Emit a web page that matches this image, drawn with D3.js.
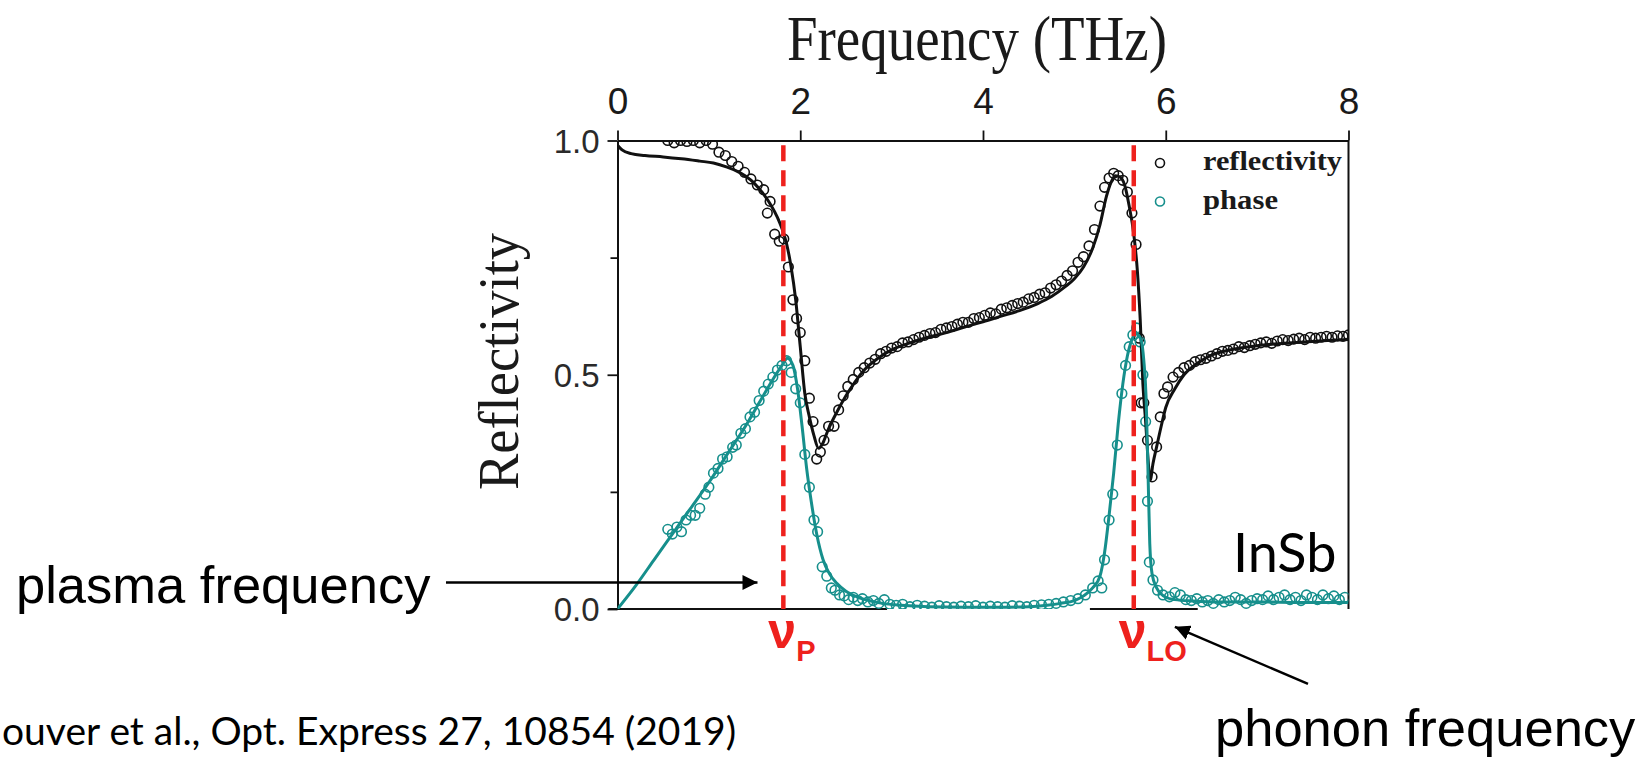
<!DOCTYPE html>
<html><head><meta charset="utf-8">
<script src="https://cdn.jsdelivr.net/npm/d3@7"></script>
<style>html,body{margin:0;padding:0;background:#fff;overflow:hidden;} svg{display:block;}</style>
</head><body>
<svg id="chart" width="1643" height="760"></svg>
<script>
// ---------- data ----------
const xTicks = [0, 2, 4, 6, 8];
const yTicks = [0, 0.5, 1.0];
const yMinorTicks = [0.25, 0.75];

// fitted reflectivity (black line)
const reflFitFreq = [0,0.05,0.15,0.3,0.5,0.7,0.9,1.05,1.2,1.3,1.4,1.5,1.6,1.68,1.75,1.8,1.85,1.9,1.95,2.0,2.05,2.1,2.15,2.2,2.25,2.3,2.4,2.5,2.6,2.7,2.85,3.0,3.2,3.4,3.6,3.8,4.0,4.2,4.4,4.6,4.75,4.9,5.0,5.1,5.2,5.28,5.35,5.4,5.45,5.5,5.55,5.6,5.65,5.69,5.72,5.75,5.78,5.81,5.83,5.86,5.9,5.95,6.0,6.1,6.2,6.35,6.5,6.7,7.0,7.3,7.6,8.0];
const reflFitVal = [0.99,0.98,0.972,0.968,0.965,0.961,0.956,0.952,0.943,0.935,0.924,0.908,0.885,0.862,0.836,0.812,0.78,0.73,0.66,0.56,0.46,0.41,0.37,0.343,0.355,0.38,0.42,0.455,0.485,0.51,0.535,0.553,0.568,0.58,0.59,0.602,0.613,0.625,0.637,0.652,0.667,0.688,0.705,0.73,0.77,0.82,0.88,0.91,0.925,0.922,0.905,0.86,0.80,0.72,0.62,0.48,0.40,0.31,0.275,0.31,0.346,0.39,0.43,0.47,0.50,0.525,0.542,0.553,0.562,0.567,0.571,0.575];

// fitted phase (teal line)
const phaseFitFreq = [0,0.2,0.4,0.6,0.8,1.0,1.2,1.4,1.55,1.7,1.8,1.86,1.92,1.97,2.02,2.07,2.12,2.18,2.25,2.32,2.4,2.5,2.62,2.75,2.9,3.1,3.4,3.8,4.2,4.5,4.7,4.85,5.0,5.1,5.2,5.28,5.33,5.38,5.43,5.48,5.53,5.58,5.63,5.67,5.70,5.73,5.76,5.785,5.805,5.825,5.85,5.9,5.95,6.0,6.1,6.3,6.6,7.0,7.5,8.0];
const phaseFitVal = [0,0.05,0.105,0.16,0.215,0.27,0.33,0.39,0.44,0.49,0.52,0.535,0.52,0.47,0.39,0.30,0.23,0.16,0.105,0.075,0.055,0.038,0.026,0.018,0.012,0.008,0.005,0.004,0.004,0.005,0.008,0.012,0.018,0.028,0.045,0.07,0.12,0.2,0.29,0.395,0.48,0.54,0.575,0.588,0.585,0.575,0.53,0.45,0.30,0.14,0.075,0.045,0.032,0.025,0.02,0.017,0.015,0.015,0.014,0.014];

// measured reflectivity (black circles) [THz, value]
const reflMeas = [[0.55,1.0],[0.62,0.995],[0.69,1.0],[0.76,0.998],[0.83,1.0],[0.90,0.995],[0.97,1.0],[1.04,0.992],[1.11,0.975],[1.18,0.968],[1.25,0.955],[1.32,0.945],[1.39,0.932],[1.46,0.918],[1.53,0.905],[1.60,0.895],[1.64,0.845],[1.67,0.87],[1.72,0.80],[1.77,0.785],[1.82,0.79],[1.87,0.73],[1.92,0.66],[1.96,0.62],[2.0,0.59],[2.05,0.53],[2.10,0.45],[2.14,0.40],[2.18,0.32],[2.22,0.335],[2.26,0.36],[2.31,0.39],[2.37,0.39],[2.42,0.425],[2.47,0.455],[2.52,0.475],[2.58,0.49],[2.64,0.505],[2.70,0.515],[2.76,0.525],[2.82,0.533],[2.88,0.545],[2.94,0.55],[3.0,0.557],[3.06,0.56],[3.12,0.568],[3.18,0.57],[3.24,0.575],[3.30,0.58],[3.36,0.584],[3.42,0.588],[3.48,0.59],[3.54,0.597],[3.60,0.6],[3.66,0.603],[3.72,0.608],[3.78,0.612],[3.84,0.612],[3.90,0.62],[3.96,0.622],[4.02,0.627],[4.08,0.632],[4.14,0.63],[4.20,0.64],[4.26,0.643],[4.32,0.648],[4.38,0.652],[4.44,0.655],[4.50,0.662],[4.56,0.665],[4.62,0.672],[4.68,0.675],[4.74,0.685],[4.80,0.692],[4.86,0.70],[4.92,0.712],[4.98,0.722],[5.04,0.74],[5.10,0.752],[5.16,0.775],[5.22,0.81],[5.28,0.86],[5.33,0.90],[5.38,0.92],[5.43,0.93],[5.48,0.925],[5.53,0.915],[5.58,0.89],[5.63,0.845],[5.675,0.778],[5.71,0.578],[5.73,0.44],[5.76,0.44],[5.80,0.36],[5.85,0.282],[5.90,0.346],[5.94,0.41],[5.98,0.46],[6.02,0.474],[6.08,0.495],[6.14,0.505],[6.20,0.515],[6.26,0.52],[6.32,0.528],[6.38,0.532],[6.44,0.535],[6.50,0.54],[6.56,0.545],[6.62,0.55],[6.68,0.552],[6.74,0.555],[6.80,0.56],[6.86,0.558],[6.92,0.562],[6.98,0.565],[7.04,0.568],[7.10,0.57],[7.16,0.567],[7.22,0.572],[7.28,0.575],[7.34,0.573],[7.40,0.576],[7.46,0.578],[7.52,0.575],[7.58,0.58],[7.64,0.578],[7.70,0.58],[7.76,0.582],[7.82,0.58],[7.88,0.583],[7.94,0.582],[8.0,0.585]];

// measured phase (teal circles) [THz, value]
const phaseMeas = [[0.55,0.17],[0.60,0.16],[0.65,0.175],[0.70,0.165],[0.75,0.19],[0.80,0.2],[0.85,0.2],[0.90,0.215],[0.96,0.245],[1.00,0.26],[1.05,0.29],[1.10,0.3],[1.15,0.32],[1.20,0.325],[1.26,0.345],[1.30,0.35],[1.35,0.375],[1.40,0.385],[1.45,0.41],[1.50,0.42],[1.55,0.445],[1.60,0.465],[1.65,0.48],[1.70,0.495],[1.75,0.51],[1.80,0.52],[1.85,0.53],[1.90,0.505],[1.95,0.47],[2.0,0.44],[2.05,0.33],[2.10,0.26],[2.15,0.19],[2.19,0.165],[2.24,0.09],[2.29,0.07],[2.34,0.045],[2.38,0.04],[2.43,0.03],[2.48,0.028],[2.53,0.02],[2.58,0.025],[2.63,0.018],[2.68,0.022],[2.74,0.015],[2.80,0.018],[2.86,0.012],[2.92,0.02],[2.98,0.01],[3.05,0.008],[3.12,0.01],[3.2,0.005],[3.28,0.008],[3.36,0.006],[3.44,0.004],[3.52,0.007],[3.6,0.005],[3.68,0.004],[3.76,0.006],[3.84,0.005],[3.92,0.007],[4.0,0.004],[4.08,0.006],[4.16,0.005],[4.24,0.004],[4.32,0.007],[4.40,0.006],[4.48,0.005],[4.56,0.008],[4.64,0.009],[4.72,0.01],[4.80,0.012],[4.88,0.015],[4.96,0.018],[5.04,0.022],[5.12,0.03],[5.20,0.045],[5.26,0.06],[5.30,0.045],[5.33,0.105],[5.38,0.19],[5.42,0.245],[5.47,0.35],[5.52,0.46],[5.56,0.52],[5.60,0.56],[5.64,0.585],[5.68,0.60],[5.72,0.57],[5.75,0.50],[5.78,0.40],[5.80,0.23],[5.82,0.10],[5.86,0.062],[5.91,0.04],[5.97,0.03],[6.04,0.026],[6.10,0.035],[6.16,0.03],[6.22,0.02],[6.28,0.018],[6.34,0.022],[6.40,0.015],[6.46,0.018],[6.52,0.012],[6.58,0.02],[6.64,0.015],[6.70,0.018],[6.76,0.025],[6.82,0.02],[6.88,0.012],[6.94,0.018],[7.0,0.022],[7.06,0.02],[7.12,0.028],[7.18,0.02],[7.24,0.025],[7.30,0.03],[7.36,0.02],[7.42,0.025],[7.48,0.018],[7.54,0.03],[7.60,0.025],[7.66,0.02],[7.72,0.03],[7.78,0.022],[7.84,0.028],[7.90,0.02],[7.96,0.025]];

// characteristic frequencies (red dashed lines)
const markerFreq = [1.815, 5.65];
const markerMain = ["\u03BD", "\u03BD"];
const markerSub = ["P", "LO"];

// visible pieces of the bottom axis (THz)
const bottomAxisSpans = [[-0.1, 2.95], [5.17, 6.35]];

// legend
const legendNames = ["reflectivity", "phase"];

// ---------- drawing ----------
const COL_BLACK = "#111";
const COL_TEAL = "#168f8c";
const COL_RED = "#ee211d";

const svg = d3.select("#chart");
svg.append("rect").attr("width",1643).attr("height",760).attr("fill","#fff");

const x = d3.scaleLinear().domain([0, 8]).range([617.5, 1348.5]);
const y = d3.scaleLinear().domain([0, 1]).range([609, 140.5]);

svg.append("defs").append("clipPath").attr("id","plotclip")
  .append("rect").attr("x", x(0)).attr("y", y(1)).attr("width", x(8)-x(0)).attr("height", y(0)-y(1));

const serif = "'Liberation Serif','Times New Roman',serif";
const sans = "'Liberation Sans',Arial,sans-serif";

// title
svg.append("text").attr("x", 977).attr("y", 60).attr("text-anchor","middle")
  .attr("font-family", serif).attr("font-size", 64).attr("fill","#1a1a1a")
  .attr("textLength", 380).attr("lengthAdjust","spacingAndGlyphs")
  .text("Frequency (THz)");

// top axis
const gTop = svg.append("g").attr("transform", `translate(0,${y(1)})`)
  .call(d3.axisTop(x).tickValues(xTicks).tickSize(10).tickPadding(17).tickSizeOuter(0).tickFormat(d3.format("d")));
gTop.select(".domain").attr("stroke", COL_BLACK).attr("stroke-width", 2);
gTop.selectAll(".tick line").attr("stroke", COL_BLACK).attr("stroke-width", 1.8);
gTop.selectAll(".tick text").attr("font-family", sans).attr("font-size", 37).attr("fill","#1a1a1a");

// left axis
const gLeft = svg.append("g").attr("transform", `translate(${x(0)},0)`)
  .call(d3.axisLeft(y).tickValues(yTicks).tickSize(10).tickPadding(8).tickSizeOuter(0).tickFormat(d3.format(".1f")));
gLeft.select(".domain").attr("stroke", COL_BLACK).attr("stroke-width", 2);
gLeft.selectAll(".tick line").attr("stroke", COL_BLACK).attr("stroke-width", 1.8);
gLeft.selectAll(".tick text").attr("font-family", sans).attr("font-size", 33).attr("fill","#2a2a2a").attr("dy","0.36em");
const gLeftMinor = svg.append("g").attr("transform", `translate(${x(0)},0)`)
  .call(d3.axisLeft(y).tickValues(yMinorTicks).tickSize(7).tickFormat(""));
gLeftMinor.select(".domain").remove();
gLeftMinor.selectAll(".tick line").attr("stroke", COL_BLACK).attr("stroke-width", 1.8);

// right axis
svg.append("line").attr("x1", x(8)).attr("x2", x(8)).attr("y1", y(1)).attr("y2", y(0))
  .attr("stroke", COL_BLACK).attr("stroke-width", 2);

// bottom axis pieces
svg.selectAll("line.bottom").data(bottomAxisSpans).enter().append("line").attr("class","bottom")
  .attr("x1", d => x(d[0])).attr("x2", d => x(d[1])).attr("y1", y(0)).attr("y2", y(0))
  .attr("stroke", COL_BLACK).attr("stroke-width", 2);

// y label
svg.append("text").attr("transform", `translate(518,361.5) rotate(-90)`).attr("text-anchor","middle")
  .attr("font-family", serif).attr("font-size", 57).attr("fill","#1a1a1a")
  .attr("textLength", 257).attr("lengthAdjust","spacingAndGlyphs")
  .text("Reflectivity");

const plot = svg.append("g").attr("clip-path","url(#plotclip)");

const line = d3.line().x(d => x(d[0])).y(d => y(d[1])).curve(d3.curveMonotoneX);

const reflFit = reflFitFreq.map((f,i) => [f, reflFitVal[i]]);
const phaseFit = phaseFitFreq.map((f,i) => [f, phaseFitVal[i]]);

// measured circles
plot.selectAll("circle.refl").data(reflMeas).enter().append("circle").attr("class","refl")
  .attr("cx", d => x(d[0])).attr("cy", d => y(d[1])).attr("r", 4.8)
  .attr("fill","none").attr("stroke", COL_BLACK).attr("stroke-width", 1.6);
plot.selectAll("circle.phase").data(phaseMeas).enter().append("circle").attr("class","phase")
  .attr("cx", d => x(d[0])).attr("cy", d => y(d[1])).attr("r", 4.8)
  .attr("fill","none").attr("stroke", COL_TEAL).attr("stroke-width", 1.6);

// fit lines
plot.append("path").datum(reflFit).attr("d", line).attr("fill","none")
  .attr("stroke", COL_BLACK).attr("stroke-width", 3);
plot.append("path").datum(phaseFit).attr("d", line).attr("fill","none")
  .attr("stroke", COL_TEAL).attr("stroke-width", 3);

// red dashed markers
svg.selectAll("line.marker").data(markerFreq).enter().append("line").attr("class","marker")
  .attr("x1", d => x(d)).attr("x2", d => x(d)).attr("y1", y(0.99)).attr("y2", y(0))
  .attr("stroke", COL_RED).attr("stroke-width", 4.5).attr("stroke-dasharray","16,9");

// marker labels
markerFreq.forEach((f, i) => {
  const t = svg.append("text").attr("x", x(f) - 15).attr("y", 648)
    .attr("font-family", sans).attr("font-weight","bold").attr("font-size", 50).attr("fill", COL_RED);
  t.append("tspan").text(markerMain[i]);
  t.append("tspan").attr("dy", 13).attr("font-size", 29).text(markerSub[i]);
});

// legend
const legendColors = [COL_BLACK, COL_TEAL];
const legendY = [163, 201.5];
legendNames.forEach((n, i) => {
  svg.append("circle").attr("cx", 1160).attr("cy", legendY[i]).attr("r", 4.5)
    .attr("fill","none").attr("stroke", legendColors[i]).attr("stroke-width", 1.6);
  svg.append("text").attr("x", 1203).attr("y", legendY[i] + 7)
    .attr("font-family", serif).attr("font-weight","bold").attr("font-size", 28).attr("fill","#1a1a1a")
    .attr("textLength", i === 0 ? 139 : 75).attr("lengthAdjust","spacingAndGlyphs")
    .text(n);
});

// InSb label
svg.append("text").attr("x", 1233).attr("y", 572)
  .attr("font-family","Lato,'Open Sans',sans-serif").attr("font-size", 54).attr("fill","#000")
  .text("InSb");

// annotations
svg.append("defs").append("marker").attr("id","arrow").attr("viewBox","0 0 10 10")
  .attr("refX", 10).attr("refY", 5).attr("markerWidth", 6).attr("markerHeight", 6)
  .attr("markerUnits","strokeWidth").attr("orient","auto")
  .append("path").attr("d","M0,0 L10,5 L0,10 Z").attr("fill","#000");

const arrows = [
  {from:[-1.877, 0.0566], to:[1.532, 0.0566]},
  {from:[7.557, -0.160], to:[6.10, -0.038]}
];
svg.selectAll("line.arrow").data(arrows).enter().append("line").attr("class","arrow")
  .attr("x1", d => x(d.from[0])).attr("y1", d => y(d.from[1]))
  .attr("x2", d => x(d.to[0])).attr("y2", d => y(d.to[1]))
  .attr("stroke","#000").attr("stroke-width", 2.5).attr("marker-end","url(#arrow)");

svg.append("text").attr("x", 16).attr("y", 603)
  .attr("font-family", sans).attr("font-size", 52.5).attr("fill","#000")
  .text("plasma frequency");
svg.append("text").attr("x", 1215).attr("y", 746)
  .attr("font-family", sans).attr("font-size", 52.5).attr("fill","#000")
  .text("phonon frequency");

svg.append("text").attr("x", 2).attr("y", 745)
  .attr("font-family","Lato,'Open Sans',sans-serif").attr("font-size", 39).attr("fill","#000")
  .text("ouver et al., Opt. Express 27, 10854 (2019)");
</script>
</body></html>
